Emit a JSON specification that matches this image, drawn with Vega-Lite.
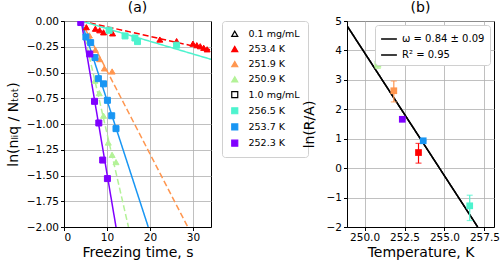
{
  "$schema": "https://vega.github.io/schema/vega-lite/v6.json",
  "background": "white",
  "padding": {"left": 5, "top": 0, "right": 5, "bottom": 5},
  "config": {
    "font": "DejaVu Sans",
    "view": {"stroke": "black", "strokeWidth": 1},
    "axis": {
      "labelFont": "DejaVu Sans", "labelFontSize": 10.5, "labelColor": "black",
      "titleFont": "DejaVu Sans", "titleFontSize": 14, "titleFontWeight": "normal", "titleColor": "black",
      "domainColor": "black", "tickColor": "black", "tickSize": 3.5,
      "grid": true, "gridColor": "#b0b0b0", "gridWidth": 0.8, "gridOpacity": 1, "labelOverlap": false
    },
    "title": {"font": "DejaVu Sans", "fontSize": 14, "fontWeight": "normal", "offset": 1},
    "legend": {"labelFont": "DejaVu Sans", "labelColor": "black"}
  },
  "datasets": {
    "pts": [
      {"t": 5.2, "v": -0.06, "label": "253.4 K"},
      {"t": 7.3, "v": -0.075, "label": "253.4 K"},
      {"t": 8.3, "v": -0.09, "label": "253.4 K"},
      {"t": 9.2, "v": -0.11, "label": "253.4 K"},
      {"t": 11.3, "v": -0.12, "label": "253.4 K"},
      {"t": 22.3, "v": -0.18, "label": "253.4 K"},
      {"t": 26.2, "v": -0.195, "label": "253.4 K"},
      {"t": 30.0, "v": -0.22, "label": "253.4 K"},
      {"t": 30.9, "v": -0.235, "label": "253.4 K"},
      {"t": 31.7, "v": -0.245, "label": "253.4 K"},
      {"t": 32.5, "v": -0.26, "label": "253.4 K"},
      {"t": 33.3, "v": -0.275, "label": "253.4 K"},
      {"t": 5.9, "v": -0.14, "label": "251.9 K"},
      {"t": 7.3, "v": -0.28, "label": "251.9 K"},
      {"t": 8.3, "v": -0.37, "label": "251.9 K"},
      {"t": 9.4, "v": -0.46, "label": "251.9 K"},
      {"t": 11.2, "v": -0.49, "label": "251.9 K"},
      {"t": 7.2, "v": -0.58, "label": "250.9 K"},
      {"t": 8.2, "v": -0.70, "label": "250.9 K"},
      {"t": 9.2, "v": -0.92, "label": "250.9 K"},
      {"t": 10.3, "v": -1.18, "label": "250.9 K"},
      {"t": 11.2, "v": -1.30, "label": "250.9 K"},
      {"t": 12.1, "v": -1.37, "label": "250.9 K"},
      {"t": 10.5, "v": -0.09, "label": "256.5 K"},
      {"t": 14.2, "v": -0.145, "label": "256.5 K"},
      {"t": 16.5, "v": -0.165, "label": "256.5 K"},
      {"t": 17.1, "v": -0.2, "label": "256.5 K"},
      {"t": 26.2, "v": -0.235, "label": "256.5 K"},
      {"t": 5.1, "v": -0.155, "label": "253.7 K"},
      {"t": 6.2, "v": -0.21, "label": "253.7 K"},
      {"t": 7.2, "v": -0.355, "label": "253.7 K"},
      {"t": 8.0, "v": -0.56, "label": "253.7 K"},
      {"t": 9.2, "v": -0.61, "label": "253.7 K"},
      {"t": 10.1, "v": -0.77, "label": "253.7 K"},
      {"t": 11.1, "v": -0.92, "label": "253.7 K"},
      {"t": 12.1, "v": -1.045, "label": "253.7 K"},
      {"t": 3.9, "v": -0.015, "label": "252.3 K"},
      {"t": 6.0, "v": -0.32, "label": "252.3 K"},
      {"t": 7.1, "v": -0.78, "label": "252.3 K"},
      {"t": 8.1, "v": -0.99, "label": "252.3 K"},
      {"t": 9.0, "v": -1.35, "label": "252.3 K"},
      {"t": 10.1, "v": -1.53, "label": "252.3 K"}
    ],
    "lines": [
      {"t": 4.0, "v": 0, "label": "253.4 K", "conc": "0.1"},
      {"t": 34.2, "v": -0.282, "label": "253.4 K", "conc": "0.1"},
      {"t": 4.0, "v": 0, "label": "251.9 K", "conc": "0.1"},
      {"t": 28.8, "v": -2.0, "label": "251.9 K", "conc": "0.1"},
      {"t": 4.0, "v": 0, "label": "250.9 K", "conc": "0.1"},
      {"t": 15.0, "v": -2.0, "label": "250.9 K", "conc": "0.1"},
      {"t": 4.0, "v": 0, "label": "256.5 K", "conc": "1.0"},
      {"t": 34.2, "v": -0.372, "label": "256.5 K", "conc": "1.0"},
      {"t": 4.0, "v": 0, "label": "253.7 K", "conc": "1.0"},
      {"t": 19.6, "v": -2.0, "label": "253.7 K", "conc": "1.0"},
      {"t": 4.0, "v": 0, "label": "252.3 K", "conc": "1.0"},
      {"t": 12.1, "v": -2.0, "label": "252.3 K", "conc": "1.0"}
    ],
    "arr": [
      {"T": 250.83, "y": 3.53, "lo": 3.39, "hi": 3.67, "label": "250.9 K"},
      {"T": 251.83, "y": 2.63, "lo": 2.25, "hi": 2.96, "label": "251.9 K"},
      {"T": 252.36, "y": 1.66, "lo": 1.66, "hi": 1.66, "label": "252.3 K"},
      {"T": 253.375, "y": 0.53, "lo": 0.17, "hi": 0.84, "label": "253.4 K"},
      {"T": 253.67, "y": 0.93, "lo": 0.93, "hi": 0.93, "label": "253.7 K"},
      {"T": 256.58, "y": -1.28, "lo": -1.78, "hi": -0.92, "label": "256.5 K"}
    ],
    "fit": [
      {"T": 248.9, "y": 4.84, "fit": "ω = 0.84 ± 0.09"},
      {"T": 257.08, "y": -2.0, "fit": "ω = 0.84 ± 0.09"},
      {"T": 248.9, "y": 4.84, "fit": "R² = 0.95"},
      {"T": 257.08, "y": -2.0, "fit": "R² = 0.95"}
    ]
  },
  "resolve": {"scale": {"color": "independent", "fill": "independent", "shape": "independent", "strokeDash": "independent", "stroke": "independent"}, "legend": {"color": "independent", "fill": "independent", "stroke": "independent", "shape": "independent", "strokeDash": "independent"}},
  "spacing": -8,
  "hconcat": [
    {
      "title": "(a)",
      "width": 147,
      "height": 206,
      "encoding": {
        "x": {"field": "t", "type": "quantitative", "scale": {"domain": [0, 34.2], "nice": false}, "axis": {"values": [0, 10, 20, 30], "title": "Freezing time, s", "titlePadding": 2}},
        "y": {"field": "v", "type": "quantitative", "scale": {"domain": [-2, 0], "nice": false}, "axis": {"values": [0, -0.25, -0.5, -0.75, -1, -1.25, -1.5, -1.75, -2], "format": ".2f", "title": "ln(nₗᵢq / Nₜₒₜ)", "titlePadding": 6}}
      },
      "layer": [
        {
          "data": {"name": "lines"},
          "mark": {"type": "line", "clip": true, "strokeWidth": 1.5},
          "encoding": {
            "color": {"field": "label", "type": "nominal", "legend": null,
              "scale": {"domain": ["253.4 K", "251.9 K", "250.9 K", "256.5 K", "253.7 K", "252.3 K"],
                        "range": ["#ff0000", "#ff964f", "#b3f297", "#4df3ce", "#1996f3", "#8000ff"]}},
            "strokeDash": {"field": "conc", "type": "nominal", "legend": null, "scale": {"domain": ["0.1", "1.0"], "range": [[6, 3], [1, 0]]}},
            "detail": {"field": "label"}
          }
        },
        {
          "data": {"name": "pts"},
          "mark": {"type": "point", "opacity": 1, "fillOpacity": 1, "strokeWidth": 1, "size": 36, "clip": true},
          "encoding": {
            "fill": {"field": "label", "type": "nominal",
              "scale": {"domain": ["0.1 mg/mL", "253.4 K", "251.9 K", "250.9 K", "1.0 mg/mL", "256.5 K", "253.7 K", "252.3 K"],
                        "range": ["white", "#ff0000", "#ff964f", "#b3f297", "white", "#4df3ce", "#1996f3", "#8000ff"]},
              "legend": {"title": null, "orient": "right", "offset": 11, "padding": 8, "strokeColor": "#d0d0d0", "fillColor": "white", "cornerRadius": 3,
                "labelFontSize": 9.5, "symbolSize": 36, "symbolStrokeWidth": 1.2, "rowPadding": 4.2, "labelOffset": 9}},
            "stroke": {"field": "label", "type": "nominal",
              "scale": {"domain": ["0.1 mg/mL", "253.4 K", "251.9 K", "250.9 K", "1.0 mg/mL", "256.5 K", "253.7 K", "252.3 K"],
                        "range": ["black", "#ff0000", "#ff964f", "#b3f297", "black", "#4df3ce", "#1996f3", "#8000ff"]},
              "legend": {"title": null, "orient": "right", "offset": 11, "padding": 8, "strokeColor": "#d0d0d0", "fillColor": "white", "cornerRadius": 3,
                "labelFontSize": 9.5, "symbolSize": 36, "symbolStrokeWidth": 1.2, "rowPadding": 4.2, "labelOffset": 9}},
            "shape": {"field": "label", "type": "nominal",
              "scale": {"domain": ["0.1 mg/mL", "253.4 K", "251.9 K", "250.9 K", "1.0 mg/mL", "256.5 K", "253.7 K", "252.3 K"],
                        "range": ["triangle-up", "triangle-up", "triangle-up", "triangle-up", "square", "square", "square", "square"]},
              "legend": {"title": null, "orient": "right", "offset": 11, "padding": 8, "strokeColor": "#d0d0d0", "fillColor": "white", "cornerRadius": 3,
                "labelFontSize": 9.5, "symbolSize": 36, "symbolStrokeWidth": 1.2, "rowPadding": 4.2, "labelOffset": 9}}
          }
        }
      ]
    },
    {
      "title": "(b)",
      "width": 147,
      "height": 206,
      "encoding": {
        "x": {"field": "T", "type": "quantitative", "scale": {"domain": [248.9, 258.1], "nice": false}, "axis": {"values": [250, 252.5, 255, 257.5], "format": ".1f", "title": "Temperature, K", "titlePadding": 2}}
      },
      "layer": [
        {
          "data": {"name": "fit"},
          "mark": {"type": "line", "color": "black", "strokeWidth": 1.5, "clip": true},
          "encoding": {
            "y": {"field": "y", "type": "quantitative", "scale": {"domain": [-2, 5], "nice": false}, "axis": {"values": [-2, -1, 0, 1, 2, 3, 4, 5], "title": "ln(R/A)", "titlePadding": 10}},
            "strokeDash": {"field": "fit", "type": "nominal",
              "scale": {"domain": ["ω = 0.84 ± 0.09", "R² = 0.95"], "range": [[1, 0], [1, 0]]},
              "legend": {"title": null, "orient": "top-right", "offset": 4, "padding": 5, "strokeColor": "#d0d0d0", "fillColor": "white", "cornerRadius": 3,
                "labelFontSize": 10, "symbolType": "stroke", "symbolStrokeColor": "black", "symbolStrokeWidth": 1.5, "symbolSize": 250, "rowPadding": 2}}
          }
        },
        {
          "data": {"name": "arr"},
          "mark": {"type": "rule", "strokeWidth": 1.2},
          "encoding": {
            "y": {"field": "lo", "type": "quantitative", "scale": {"domain": [-2, 5], "nice": false}, "axis": {"values": [-2, -1, 0, 1, 2, 3, 4, 5], "title": "ln(R/A)", "titlePadding": 10}},
            "y2": {"field": "hi"},
            "color": {"field": "label", "type": "nominal", "legend": null,
              "scale": {"domain": ["253.4 K", "251.9 K", "250.9 K", "256.5 K", "253.7 K", "252.3 K"], "range": ["#ff0000", "#ff964f", "#b3f297", "#4df3ce", "#1996f3", "#8000ff"]}}
          }
        },
        {
          "data": {"name": "arr"},
          "mark": {"type": "tick", "orient": "horizontal", "size": 6, "thickness": 1.2},
          "encoding": {
            "y": {"field": "lo", "type": "quantitative", "scale": {"domain": [-2, 5], "nice": false}, "axis": {"values": [-2, -1, 0, 1, 2, 3, 4, 5], "title": "ln(R/A)", "titlePadding": 10}},
            "color": {"field": "label", "type": "nominal", "legend": null}
          }
        },
        {
          "data": {"name": "arr"},
          "mark": {"type": "tick", "orient": "horizontal", "size": 6, "thickness": 1.2},
          "encoding": {
            "y": {"field": "hi", "type": "quantitative", "scale": {"domain": [-2, 5], "nice": false}, "axis": {"values": [-2, -1, 0, 1, 2, 3, 4, 5], "title": "ln(R/A)", "titlePadding": 10}},
            "color": {"field": "label", "type": "nominal", "legend": null}
          }
        },
        {
          "data": {"name": "arr"},
          "mark": {"type": "point", "shape": "square", "filled": true, "opacity": 1, "size": 45},
          "encoding": {
            "y": {"field": "y", "type": "quantitative", "scale": {"domain": [-2, 5], "nice": false}, "axis": {"values": [-2, -1, 0, 1, 2, 3, 4, 5], "title": "ln(R/A)", "titlePadding": 10}},
            "color": {"field": "label", "type": "nominal", "legend": null}
          }
        }
      ]
    }
  ]
}
